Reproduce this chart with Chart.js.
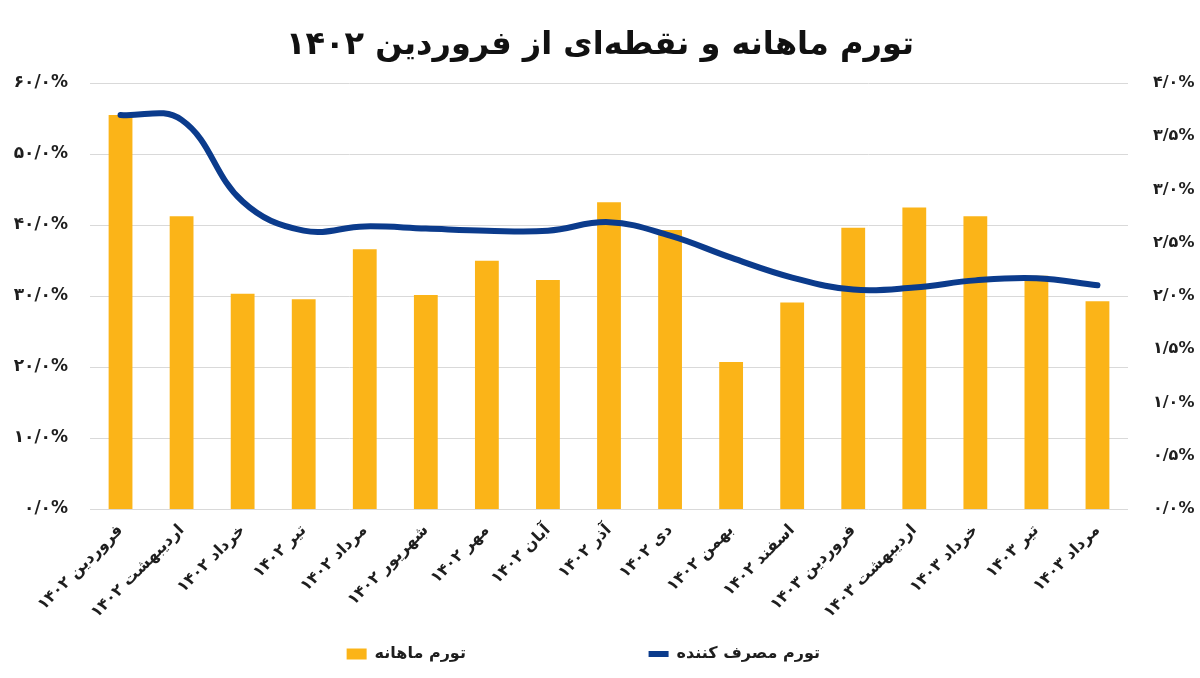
<!DOCTYPE html>
<html>
<head>
<meta charset="utf-8">
<script src="https://cdn.jsdelivr.net/npm/chart.js@4.4.1/dist/chart.umd.min.js"></script>
<style>
  html, body { margin: 0; padding: 0; background: #ffffff; }
  #wrap { width: 1200px; height: 678px; }
</style>
</head>
<body>
<div id="wrap"><canvas id="c" width="1200" height="678"></canvas></div>
<script>
const categories = [
  "فروردین ۱۴۰۲", "اردیبهشت ۱۴۰۲", "خرداد ۱۴۰۲", "تیر ۱۴۰۲", "مرداد ۱۴۰۲",
  "شهریور ۱۴۰۲", "مهر ۱۴۰۲", "آبان ۱۴۰۲", "آذر ۱۴۰۲", "دی ۱۴۰۲",
  "بهمن ۱۴۰۲", "اسفند ۱۴۰۲", "فروردین ۱۴۰۳", "اردیبهشت ۱۴۰۳", "خرداد ۱۴۰۳",
  "تیر ۱۴۰۳", "مرداد ۱۴۰۳"
];
// monthly inflation (%), right axis
const monthlyInflation = [3.70, 2.75, 2.02, 1.97, 2.44, 2.01, 2.33, 2.15, 2.88, 2.62, 1.38, 1.94, 2.64, 2.83, 2.75, 2.19, 1.95];
// point-to-point consumer inflation (%), left axis
const consumerInflation = [55.5, 54.8, 43.3, 39.2, 39.8, 39.5, 39.2, 39.2, 40.4, 38.5, 35.4, 32.6, 30.9, 31.2, 32.2, 32.5, 31.5];

const leftTickLabels = ["۰/۰%", "۱۰/۰%", "۲۰/۰%", "۳۰/۰%", "۴۰/۰%", "۵۰/۰%", "۶۰/۰%"];
const rightTickLabels = ["۰/۰%", "۰/۵%", "۱/۰%", "۱/۵%", "۲/۰%", "۲/۵%", "۳/۰%", "۳/۵%", "۴/۰%"];

const titleText = "تورم ماهانه و نقطه‌ای از فروردین ۱۴۰۲";
const barLabel = "تورم ماهانه";
const lineLabel = "تورم مصرف کننده";

const FONT = "'DejaVu Sans', 'Noto Sans', sans-serif";
const TEXT = "#1e1e1e";

new Chart(document.getElementById('c'), {
  data: {
    labels: categories,
    datasets: [
      {
        type: 'line',
        label: lineLabel,
        data: consumerInflation,
        yAxisID: 'yLeft',
        borderColor: '#0b3b8c',
        backgroundColor: '#0b3b8c',
        borderWidth: 6,
        borderCapStyle: 'round',
        borderJoinStyle: 'round',
        pointRadius: 0,
        pointStyle: 'line',
        tension: 0.4,
        fill: false
      },
      {
        type: 'bar',
        label: barLabel,
        data: monthlyInflation,
        yAxisID: 'yRight',
        backgroundColor: '#fbb418',
        borderWidth: 0,
        pointStyle: 'rect',
        categoryPercentage: 1.0,
        barPercentage: 0.39
      }
    ]
  },
  options: {
    responsive: false,
    animation: false,
    devicePixelRatio: 1,
    layout: { padding: { top: 0, bottom: 6, left: 0, right: 0 } },
    plugins: {
      title: {
        display: true,
        text: titleText,
        color: '#111',
        font: { family: FONT, size: 32, weight: 'bold' },
        padding: { top: 26, bottom: 18.6 }
      },
      legend: {
        display: true,
        position: 'bottom',
        reverse: true,
        labels: {
          usePointStyle: true,
          pointStyleWidth: 20,
          boxHeight: 11,
          padding: 10,
          color: TEXT,
          font: { family: FONT, size: 16, weight: 'bold' },
          generateLabels: function(chart) {
            const items = Chart.defaults.plugins.legend.labels.generateLabels(chart);
            items.forEach(it => {
              if (it.datasetIndex === 1) it.text = it.text + ' '.repeat(31);
              else it.text = it.text + ' '.repeat(6);
            });
            return items;
          }
        }
      },
      tooltip: { enabled: false }
    },
    scales: {
      x: {
        grid: { display: false },
        border: { display: false },
        ticks: {
          color: TEXT,
          font: { family: FONT, size: 16, weight: 'bold' },
          minRotation: 45,
          maxRotation: 45,
          autoSkip: false,
          padding: 4
        },
        afterFit: function(scale) { scale.height = 127; }
      },
      yLeft: {
        position: 'left',
        min: 0,
        max: 60,
        grid: { color: '#d9d9d9', lineWidth: 1, drawTicks: false },
        border: { display: false },
        ticks: {
          stepSize: 10,
          padding: 22,
          color: TEXT,
          font: { family: FONT, size: 17, weight: 'bold' },
          callback: function(value, index) { return leftTickLabels[index]; }
        },
        afterFit: function(scale) { scale.width = 90; }
      },
      yRight: {
        position: 'right',
        min: 0,
        max: 4,
        grid: { display: false, drawOnChartArea: false },
        border: { display: false },
        ticks: {
          stepSize: 0.5,
          padding: 17,
          color: TEXT,
          font: { family: FONT, size: 16, weight: 'bold' },
          callback: function(value, index) { return rightTickLabels[index]; }
        },
        afterFit: function(scale) { scale.width = 72; }
      }
    }
  }
});
</script>
</body>
</html>
